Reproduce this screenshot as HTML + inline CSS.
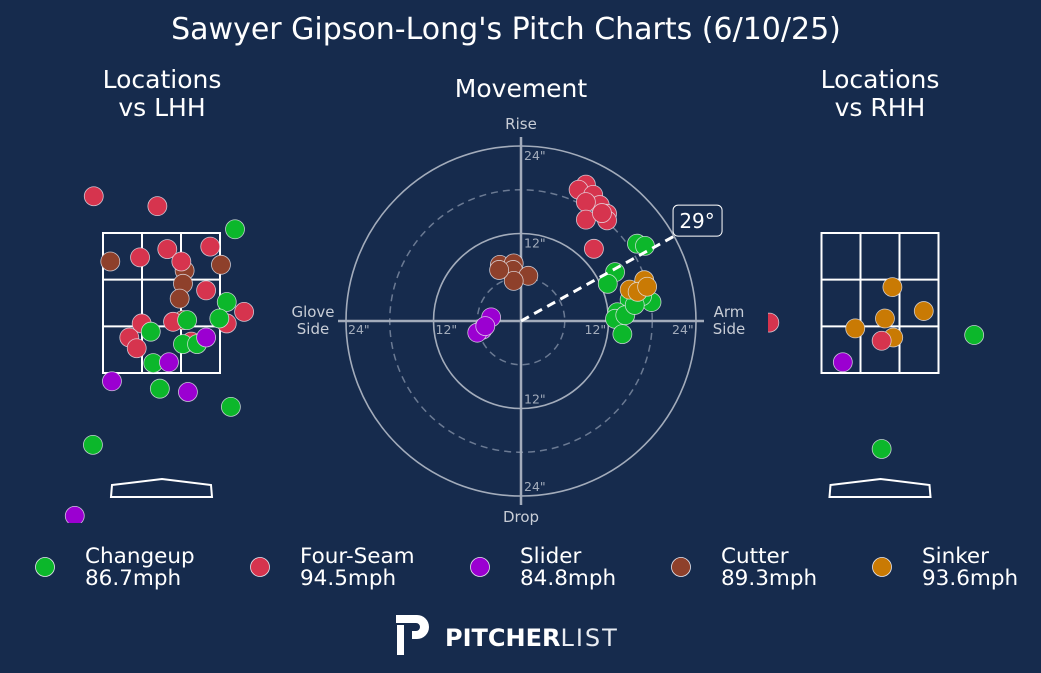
<!DOCTYPE html>
<html><head><meta charset="utf-8">
<style>
html,body{margin:0;padding:0;background:#162b4d;}
svg{display:block;font-family:"Liberation Sans","DejaVu Sans",sans-serif;}
</style></head>
<body>
<svg id="chart" width="1041" height="673" viewBox="0 0 1041 673" xmlns="http://www.w3.org/2000/svg">
<rect width="1041" height="673" fill="#162b4d"/>
<text x="506" y="39" fill="#fff" font-size="30" text-anchor="middle" font-family="DejaVu Sans, sans-serif">Sawyer Gipson-Long's Pitch Charts (6/10/25)</text>
<g font-family="DejaVu Sans, sans-serif" fill="#fff" font-size="25" text-anchor="middle">
<text x="162" y="88"><tspan x="162">Locations</tspan><tspan x="162" dy="28">vs LHH</tspan></text>
<text x="880" y="88"><tspan x="880">Locations</tspan><tspan x="880" dy="28">vs RHH</tspan></text>
<text x="521" y="97">Movement</text>
</g>
<defs>
<clipPath id="clipL"><rect x="40" y="140" width="250" height="383"/></clipPath>
<clipPath id="clipR"><rect x="768" y="140" width="250" height="383"/></clipPath>
</defs>
<g id="mov"></g>
<g id="lhh" clip-path="url(#clipL)"></g>
<g id="rhh" clip-path="url(#clipR)"></g>
<g id="legend"></g>
<g>
<path d="M396 615 h21 a12 12 0 0 1 0 24 h-5 v-8 h4 a4 4 0 0 0 0 -8 h-20 z M397 625 h7 v30 h-7 z" fill="#fff"/>
<text x="445" y="646" fill="#fff" font-size="24" font-weight="bold" font-family="DejaVu Sans, sans-serif">PITCHER<tspan font-weight="normal" fill="#e8ecf2" letter-spacing="2">LIST</tspan></text>
</g>
</svg>
<script>
const pitchTypes = ["Changeup","Four-Seam","Slider","Cutter","Sinker"];
const pitchSpeeds = [86.7,94.5,84.8,89.3,93.6];
const pitchColors = ["#0cb72b","#d6344e","#9b00d1","#8e402b","#c97a04"];
// movement (inches): horizontal break, induced vertical break
const movFS_x = [8.9,7.9,9.9,10.8,8.9,11.8,8.9,11.8,10.0,11.1];
const movFS_y = [18.7,18.0,17.3,15.9,16.3,14.7,13.9,13.8,9.9,14.8];
const movFC_x = [-2.9,-1.0,-1.1,1.0,-1.0,-3.0];
const movFC_y = [7.7,7.9,7.0,6.2,5.5,7.0];
const movSL_x = [-4.1,-5.3,-6.0,-4.9];
const movSL_y = [0.5,-1.2,-1.6,-0.7];
const movCH_x = [15.9,17.0,12.9,11.9,17.9,14.9,16.6,13.2,12.9,13.9,14.3,15.6];
const movCH_y = [10.6,10.3,6.7,5.1,2.6,2.9,3.4,1.2,0.3,-1.8,0.8,2.2];
const movSI_x = [14.9,16.9,16.0,17.3];
const movSI_y = [4.3,5.6,4.0,4.7];
const armAngle = 29;
const ringTicks = [12,24];
// locations vs LHH (feet): plate_x, plate_z
const lhhFS_x = [-0.82,-0.05,-0.26,0.07,0.24,0.59,0.54,1.0,0.79,-0.24,-0.39,-0.30,0.14,0.36];
const lhhFS_z = [3.64,3.52,2.90,3.0,2.85,3.03,2.50,2.24,2.10,2.10,1.93,1.80,2.12,1.88];
const lhhFC_x = [-0.62,0.72,0.28,0.26,0.22,0.26];
const lhhFC_z = [2.85,2.81,2.74,2.58,2.40,2.14];
const lhhCH_x = [0.89,0.79,0.70,0.31,-0.13,0.26,0.43,-0.10,-0.02,0.84,-0.83];
const lhhCH_z = [3.24,2.36,2.16,2.14,2.0,1.85,1.85,1.62,1.31,1.09,0.63];
const lhhSL_x = [0.54,0.09,-0.60,0.32,-1.05];
const lhhSL_z = [1.93,1.63,1.40,1.27,-0.23];
// locations vs RHH
const rhhSI_x = [0.15,0.53,-0.30,0.06,0.16];
const rhhSI_z = [2.54,2.25,2.04,2.16,1.93];
const rhhFS_x = [0.02,-1.34];
const rhhFS_z = [1.89,2.11];
const rhhCH_x = [1.14,0.02];
const rhhCH_z = [1.96,0.58];
const rhhSL_x = [-0.45];
const rhhSL_z = [1.63];

const NS="http://www.w3.org/2000/svg";
function mk(tag,attrs,parent){const e=document.createElementNS(NS,tag);for(const k in attrs)e.setAttribute(k,attrs[k]);parent.appendChild(e);return e;}
const R=9.5;
const mcx=521,mcy=321,pxPerIn=175/24;
const mx=v=>mcx+v*pxPerIn, my=v=>mcy-v*pxPerIn;
const mov=document.getElementById('mov');
[6,18].forEach(r=>{const c=mk('circle',{cx:mcx,cy:mcy,r:r*pxPerIn,fill:'none',stroke:'#6b7a93','stroke-width':1.5,'stroke-dasharray':'7,5'},mov);

});
ringTicks.forEach(r=>{const c=mk('circle',{cx:mcx,cy:mcy,r:r*pxPerIn,fill:'none',stroke:'#a3acbb','stroke-width':1.6},mov);

});
let l=mk('line',{x1:mcx,y1:137,x2:mcx,y2:505,stroke:'#a3acbb','stroke-width':2.5},mov);


l=mk('line',{x1:338,y1:mcy,x2:704,y2:mcy,stroke:'#a3acbb','stroke-width':2.5},mov);


ringTicks.forEach(r=>{
 [[mcx+3,my(r)+14,'start'],[mcx+3,my(-r)-5,'start'],[mx(-r)+2,mcy+13,'start'],[mx(r)-24,mcy+13,'start']].forEach(p=>{
  const t=mk('text',{x:p[0],y:p[1],fill:'#a3acbb','font-size':12.5,'font-family':'DejaVu Sans, sans-serif'},mov);t.textContent=r+'"';
  
  
 });
});
[['Rise',521,129],['Drop',521,522]].forEach(a=>{const t=mk('text',{x:a[1],y:a[2],fill:'#c8cdd6','font-size':15,'text-anchor':'middle','font-family':'DejaVu Sans, sans-serif'},mov);t.textContent=a[0];

});
[['Glove',313,317],['Side',313,334],['Arm',729,317],['Side',729,334]].forEach(a=>{const t=mk('text',{x:a[1],y:a[2],fill:'#c8cdd6','font-size':15,'text-anchor':'middle','font-family':'DejaVu Sans, sans-serif'},mov);t.textContent=a[0];

});
const movSets=[[movCH_x,movCH_y,0],[movFS_x,movFS_y,1],[movSL_x,movSL_y,2],[movFC_x,movFC_y,3],[movSI_x,movSI_y,4]];
movSets.forEach(s=>{s[0].forEach((v,i)=>{const c=mk('circle',{cx:mx(v),cy:my(s[1][i]),r:R,fill:pitchColors[s[2]],stroke:'#e8e8f0','stroke-width':0.8,'stroke-opacity':0.8},mov);

});});
const ang=armAngle*Math.PI/180, len=175;
const ex=mcx+len*Math.cos(ang), ey=mcy-len*Math.sin(ang);
l=mk('line',{x1:mcx,y1:mcy,x2:ex,y2:ey,stroke:'#fff','stroke-width':3,'stroke-dasharray':'9,6'},mov);


let bx=mk('rect',{x:ex-1,y:ey-31,width:49,height:31,rx:5,fill:'#162b4d',stroke:'#fff','stroke-width':1},mov);


let at=mk('text',{x:ex+23,y:ey-8,fill:'#fff','font-size':20,'text-anchor':'middle','font-family':'DejaVu Sans, sans-serif'},mov);at.textContent=armAngle+'°';


function panel(g,cx,sets){
 const s=82.6, bottom=373;
 const X=v=>cx+v*s, Z=v=>bottom-(v-1.5)*s;
 const zl=cx-58.5, zr=cx+58.5, zt=233, zb=373;
 const r=mk('rect',{x:zl,y:zt,width:zr-zl,height:zb-zt,fill:'none',stroke:'#fff','stroke-width':2},g);
 
 
 for(let i=1;i<3;i++){
  let a=mk('line',{x1:zl+(zr-zl)*i/3,y1:zt,x2:zl+(zr-zl)*i/3,y2:zb,stroke:'#fff','stroke-width':2},g);
  
  
  a=mk('line',{x1:zl,y1:zt+(zb-zt)*i/3,x2:zr,y2:zt+(zb-zt)*i/3,stroke:'#fff','stroke-width':2},g);
  
  
 }
 const p=mk('polygon',{points:`${cx-49.5},485 ${cx+0.5},479 ${cx+49.5},485 ${cx+50.5},497 ${cx-50.5},497`,fill:'none',stroke:'#fff','stroke-width':2},g);
 
 
 sets.forEach(st=>{st[0].forEach((v,i)=>{const c=mk('circle',{cx:X(v),cy:Z(st[1][i]),r:R,fill:pitchColors[st[2]],stroke:'#e8e8f0','stroke-width':0.8,'stroke-opacity':0.8},g);
  
  });});
}
panel(document.getElementById('lhh'),161.5,[[lhhFC_x,lhhFC_z,3],[lhhFS_x,lhhFS_z,1],[lhhCH_x,lhhCH_z,0],[lhhSL_x,lhhSL_z,2]]);
panel(document.getElementById('rhh'),880,[[rhhSI_x,rhhSI_z,4],[rhhFS_x,rhhFS_z,1],[rhhCH_x,rhhCH_z,0],[rhhSL_x,rhhSL_z,2]]);
const lg=document.getElementById('legend');
const legX=[45,260,480,681,882];
pitchTypes.forEach((n,i)=>{
 const c=mk('circle',{cx:legX[i],cy:567,r:R,fill:pitchColors[i],stroke:'#e8e8f0','stroke-width':0.8},lg);
 
 
 const t=mk('text',{x:legX[i]+40,y:563,fill:'#fff','font-size':21.5,'font-family':'DejaVu Sans, sans-serif'},lg);
 t.innerHTML=`<tspan x="${legX[i]+40}">${n}</tspan><tspan x="${legX[i]+40}" dy="22">${pitchSpeeds[i]}mph</tspan>`;
 
 
});
</script>
</body></html>
